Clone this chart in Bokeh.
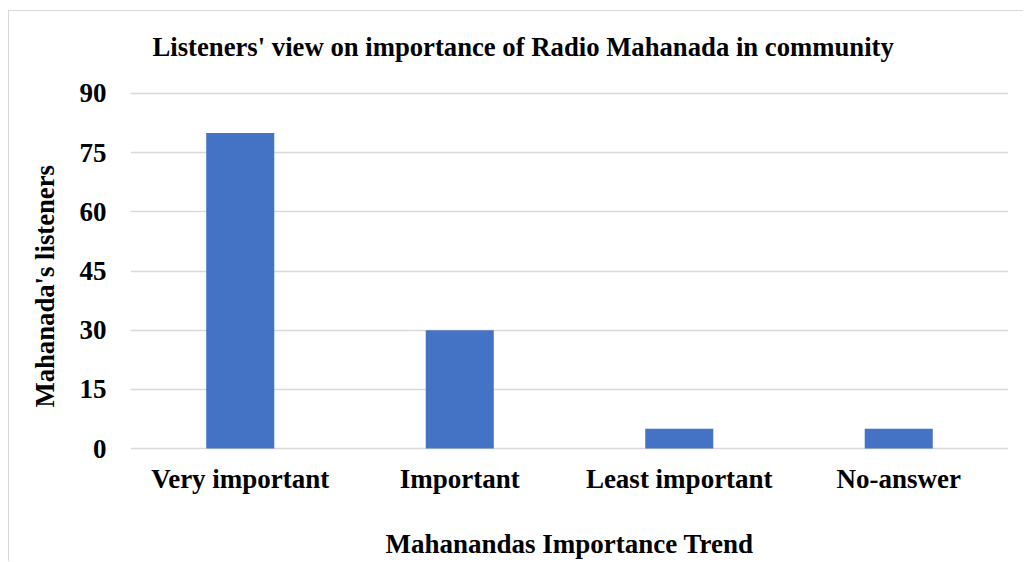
from bokeh.plotting import figure
from bokeh.layouts import column
from bokeh.models import Range1d, FixedTicker, Title, Label
from bokeh.embed import file_html
from bokeh.resources import INLINE

categories = ["Very important", "Important", "Least important", "No-answer"]
values = [80, 30, 5, 5]
y_ticks = [0, 15, 30, 45, 60, 75, 90]
title_text = "Listeners' view on importance of Radio Mahanada in community"
x_label = "Mahanandas Importance Trend"
y_label = "Mahanada's listeners"

FONT = "Liberation Serif"
BORDER = "1px solid #d9d9d9"

# title strip (its frame is aligned with the main chart's frame by the column)
t = figure(width=1015, height=60, x_range=Range1d(0, 1), y_range=Range1d(0, 1),
           output_backend="svg", toolbar_location=None,
           x_axis_location=None, y_axis_location=None,
           min_border_left=121, min_border_right=16, min_border_top=0, min_border_bottom=0)
t.grid.visible = False
t.outline_line_color = None
t.background_fill_color = "white"
t.border_fill_color = "white"
t.add_layout(Label(x=22, y=25, x_units="screen", y_units="screen", text=title_text,
                   text_font=FONT, text_font_size="26.7px", text_font_style="bold",
                   text_color="#000000", text_align="left", text_baseline="middle"))
t.styles = {"margin-left": "8px", "margin-top": "10px",
            "border-left": BORDER, "border-top": BORDER}

# main chart
p = figure(x_range=categories, y_range=Range1d(-0.5, 90.5),
           width=1015, height=491, output_backend="svg", toolbar_location=None,
           min_border_left=121, min_border_right=16, min_border_top=21, min_border_bottom=111)

p.vbar(x=categories, top=values, width=0.31, color="#4472C4", line_color=None)

p.add_layout(Title(text=y_label, text_font=FONT, text_font_size="26.7px",
                   text_font_style="bold", text_color="#000000",
                   align="left", offset=43, standoff=33), "left")

p.outline_line_color = None
p.background_fill_color = "white"
p.border_fill_color = "white"

p.xgrid.grid_line_color = None
p.ygrid.grid_line_color = "#d9d9d9"
p.ygrid.grid_line_width = 1.5
p.yaxis.ticker = FixedTicker(ticks=y_ticks)

for ax in (p.xaxis[0], p.yaxis[0]):
    ax.axis_line_color = None
    ax.major_tick_line_color = None
    ax.minor_tick_line_color = None
    ax.major_label_text_font = FONT
    ax.major_label_text_font_size = "27px"
    ax.major_label_text_font_style = "bold"
    ax.major_label_text_color = "#000000"
    ax.axis_label_text_font = FONT
    ax.axis_label_text_font_size = "27px"
    ax.axis_label_text_font_style = "bold"
    ax.axis_label_text_color = "#000000"

p.xaxis.axis_label = x_label
p.xaxis.major_label_standoff = 7
p.xaxis.axis_label_standoff = 32
p.yaxis.major_label_standoff = 18

p.styles = {"margin-left": "8px", "border-left": BORDER}

layout = column(t, p, spacing=0)

open("out.html", "w").write(file_html(layout, INLINE))
